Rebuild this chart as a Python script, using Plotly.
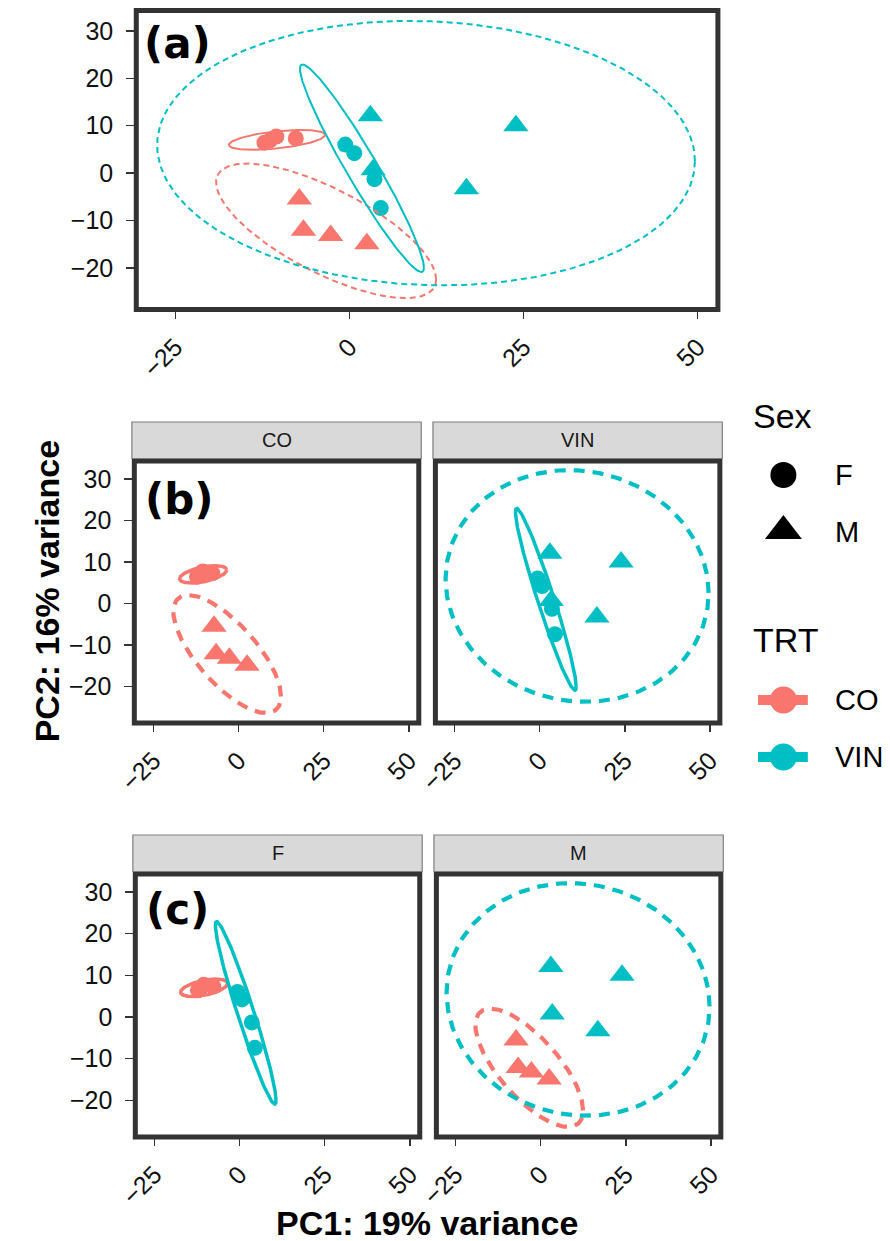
import numpy as np
import plotly.graph_objects as go

# ---------------- data ----------------
pc1_CO_F = [-12.2, -11.4, -10.5, -7.7]
pc2_CO_F = [6.4, 6.9, 7.7, 7.3]
pc1_CO_M = [-7.2, -6.6, -2.7, 2.5]
pc2_CO_M = [-5.5, -12.1, -13.2, -14.9]
pc1_VIN_F = [-0.6, 0.7, 3.6, 4.5]
pc2_VIN_F = [6.0, 4.2, -1.3, -7.4]
pc1_VIN_M = [3.0, 3.4, 16.8, 23.9]
pc2_VIN_M = [12.1, 0.7, -3.3, 10.0]

# confidence ellipses: centre x, centre y, half x-extent, half y-extent, correlation
ell_CO_F = [-10.4, 7.0, 6.9, 2.1, 0.5]
ell_CO_M = [-3.35, -12.2, 15.8, 14.2, -0.72]
ell_VIN_F = [1.8, 1.0, 8.9, 21.9, -0.958]
ell_VIN_M = [11.0, 4.2, 38.6, 27.9, -0.06]

x_tickvals = [-25, 0, 25, 50]
x_ticktext = ["\u221225", "0", "25", "50"]
y_tickvals = [-20, -10, 0, 10, 20, 30]
y_ticktext = ["\u221220", "\u221210", "0", "10", "20", "30"]
x_range = [-30.6, 52.9]
y_range = [-28.8, 34.3]

trt_levels = ["CO", "VIN"]
sex_levels = ["F", "M"]
strip_b = ["CO", "VIN"]
strip_c = ["F", "M"]
panel_tags = ["(a)", "(b)", "(c)"]
x_title = "PC1: 19% variance"
y_title = "PC2: 16% variance"

# ---------------- styling ----------------
W, H = 890, 1241
COL = {"CO": "#F8766D", "VIN": "#00BFC4"}
SYM = {"F": "circle", "M": "triangle-up"}
MSIZE = {"F": 16, "M": 22}
FONT = "Liberation Sans, Arial, sans-serif"
TICKSIZE = 25


def px(x):
    return x / W


def py(y):
    return 1 - y / H


groups = {
    ("CO", "F"): (pc1_CO_F, pc2_CO_F, ell_CO_F),
    ("CO", "M"): (pc1_CO_M, pc2_CO_M, ell_CO_M),
    ("VIN", "F"): (pc1_VIN_F, pc2_VIN_F, ell_VIN_F),
    ("VIN", "M"): (pc1_VIN_M, pc2_VIN_M, ell_VIN_M),
}


def ellipse(p, n=240):
    cx, cy, sx, sy, rho = p
    t = np.linspace(0, 2 * np.pi, n)
    x = cx + sx * np.cos(t)
    y = cy + sy * (rho * np.cos(t) + np.sqrt(1 - rho ** 2) * np.sin(t))
    return x, y


# panel geometry in pixels: (left, right, top, bottom)
panels = [
    dict(ax="", box=(121, 716, 10.5, 309.5), keys=[("CO", "F"), ("CO", "M"), ("VIN", "F"), ("VIN", "M")], thick=False, ylab=True),
    dict(ax="2", box=(119, 410, 461, 723), keys=[("CO", "F"), ("CO", "M")], thick=True, ylab=True),
    dict(ax="3", box=(427, 718, 461, 723), keys=[("VIN", "F"), ("VIN", "M")], thick=True, ylab=False),
    dict(ax="4", box=(120, 411, 874, 1137), keys=[("CO", "F"), ("VIN", "F")], thick=True, ylab=True),
    dict(ax="5", box=(428, 719, 874, 1137), keys=[("CO", "M"), ("VIN", "M")], thick=True, ylab=False),
]

fig = go.Figure()
layout = dict(
    width=W, height=H, margin=dict(l=0, r=0, t=0, b=0), autosize=False,
    paper_bgcolor="white", plot_bgcolor="white", showlegend=False,
    font=dict(family=FONT, color="#111111"),
)
shapes = []
annotations = []

for p in panels:
    a = p["ax"]
    xa, ya = "x" + a, "y" + a
    l, r, t, b = p["box"]
    layout["xaxis" + a] = dict(
        domain=[px(l), px(r)], range=x_range, anchor=ya, tickvals=x_tickvals, ticktext=x_ticktext,
        showgrid=False, zeroline=False, showline=False, ticks="outside", ticklen=8, tickwidth=1.5,
        tickcolor="#333333", tickangle=-45, tickfont=dict(size=TICKSIZE, color="#111111"),
        ticklabelstandoff=4, fixedrange=True,
    )
    layout["yaxis" + a] = dict(
        domain=[py(b), py(t)], range=y_range, anchor=xa, tickvals=y_tickvals, ticktext=y_ticktext,
        showgrid=False, zeroline=False, showline=False,
        ticks="outside" if p["ylab"] else "", showticklabels=p["ylab"],
        ticklen=9, tickwidth=1.5, tickcolor="#333333", tickfont=dict(size=TICKSIZE, color="#111111"),
        ticklabelstandoff=8, fixedrange=True,
    )
    # points
    for k in p["keys"]:
        xs, ys, _ = groups[k]
        fig.add_trace(go.Scatter(
            x=xs, y=ys, xaxis=xa, yaxis=ya, mode="markers",
            marker=dict(symbol=SYM[k[1]], size=MSIZE[k[1]], color=COL[k[0]], line=dict(width=0)),
            hoverinfo="skip",
        ))
    # ellipses
    for k in p["keys"]:
        ex, ey = ellipse(groups[k][2])
        if p["thick"]:
            lw = 3.5 if k[1] == "F" else 4.2
            dash = "solid" if k[1] == "F" else "11px,8px"
        else:
            lw = 2
            dash = "solid" if k[1] == "F" else "6px,4px"
        fig.add_trace(go.Scatter(
            x=ex, y=ey, xaxis=xa, yaxis=ya, mode="lines",
            line=dict(color=COL[k[0]], width=lw, dash=dash), hoverinfo="skip",
        ))
    # panel border
    shapes.append(dict(type="rect", xref=xa + " domain", yref=ya + " domain", x0=0, x1=1, y0=0, y1=1,
                       line=dict(color="#333333", width=5), layer="above"))

# strips
strip_specs = [
    (panels[1]["box"], strip_b[0], 422), (panels[2]["box"], strip_b[1], 422),
    (panels[3]["box"], strip_c[0], 835), (panels[4]["box"], strip_c[1], 835),
]
for (l, r, t, b), label, top in strip_specs:
    shapes.append(dict(type="rect", xref="paper", yref="paper", x0=px(l - 2.5), x1=px(r + 2.5),
                       y0=py(t - 2.5), y1=py(top), fillcolor="#D9D9D9",
                       line=dict(color="#7F7F7F", width=1.2), layer="above"))
    annotations.append(dict(x=px((l + r) / 2), y=py((top + t - 2.5) / 2), xref="paper", yref="paper",
                            text=label, showarrow=False, xanchor="center", yanchor="middle",
                            font=dict(size=20, color="#1A1A1A", family=FONT)))

# panel tags
for tag, (x0, yc) in zip(panel_tags, [(127, 43), (128, 499), (129, 909)]):
    annotations.append(dict(x=px(x0), y=py(yc), xref="paper", yref="paper", text="<b>" + tag + "</b>",
                            showarrow=False, xanchor="left", yanchor="middle",
                            font=dict(size=42, color="black", family="DejaVu Sans")))

# axis titles
annotations.append(dict(x=px(418), y=py(1223), xref="paper", yref="paper", text="<b>" + x_title + "</b>",
                        showarrow=False, xanchor="center", yanchor="middle",
                        font=dict(size=34, color="black", family=FONT)))
annotations.append(dict(x=px(30), y=py(591), xref="paper", yref="paper", text="<b>" + y_title + "</b>",
                        showarrow=False, xanchor="center", yanchor="middle", textangle=-90,
                        font=dict(size=34, color="black", family=FONT)))

# ---------------- legend (drawn on a hidden pixel-scaled axis) ----------------
layout["xaxis6"] = dict(domain=[px(740), 1.0], range=[740, 890], visible=False, anchor="y6", fixedrange=True)
layout["yaxis6"] = dict(domain=[py(800), py(380)], range=[800, 380], visible=False, anchor="x6", fixedrange=True)
key_x = 783
sex_key_y = [475, 531]
sex_label_y = [475, 532]
trt_key_y = [700, 757]
for s, yk, yl in zip(sex_levels, sex_key_y, sex_label_y):
    fig.add_trace(go.Scatter(x=[key_x], y=[yk], xaxis="x6", yaxis="y6", mode="markers",
                             marker=dict(symbol=SYM[s], size=26 if s == "F" else 32, color="black"),
                             hoverinfo="skip", cliponaxis=False))
    annotations.append(dict(x=px(834), y=py(yl), xref="paper", yref="paper", text=s, showarrow=False,
                            xanchor="left", yanchor="middle", font=dict(size=29, color="black", family=FONT)))
for tr, yk in zip(trt_levels, trt_key_y):
    fig.add_trace(go.Scatter(x=[757, key_x, 808], y=[yk, yk, yk], xaxis="x6", yaxis="y6", mode="lines",
                             line=dict(color=COL[tr], width=10), hoverinfo="skip", cliponaxis=False))
    fig.add_trace(go.Scatter(x=[key_x], y=[yk], xaxis="x6", yaxis="y6", mode="markers",
                             marker=dict(symbol="circle", size=27, color=COL[tr]),
                             hoverinfo="skip", cliponaxis=False))
    annotations.append(dict(x=px(834), y=py(yk), xref="paper", yref="paper", text=tr, showarrow=False,
                            xanchor="left", yanchor="middle", font=dict(size=29, color="black", family=FONT)))
for title, yk in zip(["Sex", "TRT"], [416, 640]):
    annotations.append(dict(x=px(750), y=py(yk), xref="paper", yref="paper", text=title, showarrow=False,
                            xanchor="left", yanchor="middle", font=dict(size=34, color="black", family=FONT)))

layout["shapes"] = shapes
layout["annotations"] = annotations
fig.update_layout(**layout)
fig.write_html("out.html", config={"displayModeBar": False, "staticPlot": True},
               post_script="document.body.style.margin='0';")
